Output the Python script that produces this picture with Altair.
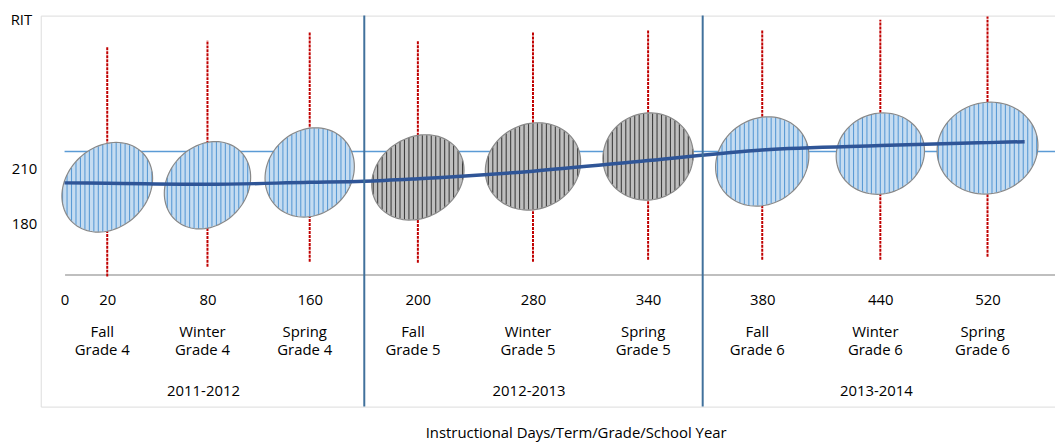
import math
import altair as alt
import pandas as pd

# ---------------- data ----------------
days = [20, 80, 160, 200, 280, 340, 380, 440, 520]
terms = ["Fall", "Winter", "Spring", "Fall", "Winter", "Spring", "Fall", "Winter", "Spring"]
grades = ["Grade 4", "Grade 4", "Grade 4", "Grade 5", "Grade 5", "Grade 5", "Grade 6", "Grade 6", "Grade 6"]
rit_center = [199.7, 200.8, 207.8, 205.1, 211.1, 216.5, 213.8, 218.1, 221.1]
rit_high = [276.2, 280.0, 284.3, 280.0, 284.3, 285.4, 285.4, 291.3, 293.0]
rit_low = [150.9, 156.3, 159.0, 158.5, 159.0, 160.1, 160.1, 160.1, 161.7]

trend_days = [0, 20, 80, 160, 180, 200, 280, 340, 380, 440, 520, 531]
trend_rit = [202.1, 201.9, 201.3, 202.4, 203.0, 204.4, 208.5, 214.3, 220.1, 222.5, 224.1, 224.6]

reference_rit = 219.2
tick_days = [0, 20, 80, 160, 200, 280, 340, 380, 440, 520]
rit_ticks = [180, 210]
years = ["2011-2012", "2012-2013", "2013-2014"]
year_label_days = [80, 280, 440]
year_bounds = [180, 360]

# ---------------- style ----------------
FONT = "Open Sans"
FS = 15
# ellipse geometry in pixels: half width, half height, x offset of top point
ellipse_geom = [(45.7, 45.2, 9), (43.5, 44.0, 8), (45.0, 45.0, 6),
                (46.5, 43.0, 8), (48.0, 44.0, 5), (45.5, 44.0, 2),
                (47.0, 45.0, 6), (44.5, 41.0, 3), (50.8, 46.3, 3)]
grade_fill = {"Grade 4": "#c5dcf1", "Grade 5": "#bfbfbf", "Grade 6": "#c5dcf1"}
grade_hatch = {"Grade 4": "#5b9bd5", "Grade 5": "#3f3f3f", "Grade 6": "#5b9bd5"}


def ellipse_paths(W, H, dx, spacing=4.5, n=96):
    sxy = -dx * H
    l00 = W
    l10 = sxy / W
    l11 = math.sqrt(H * H - l10 * l10)
    pts = []
    for i in range(n):
        t = 2 * math.pi * i / n
        pts.append((l00 * math.cos(t), l10 * math.cos(t) + l11 * math.sin(t)))
    outline = "M " + " L ".join(f"{x:.2f} {y:.2f}" for x, y in pts) + " Z"
    segs = []
    k = math.ceil(-W / spacing)
    x = k * spacing
    while x < W:
        c = x / W
        s = math.sqrt(max(0.0, 1 - c * c))
        y1 = l10 * c - l11 * s
        y2 = l10 * c + l11 * s
        if y2 - y1 > 1.5:
            segs.append(f"M {x:.2f} {y1 + 0.5:.2f} L {x:.2f} {y2 - 0.5:.2f}")
        x += spacing
    return outline, " ".join(segs)


outl, hatch = zip(*[ellipse_paths(*g) for g in ellipse_geom])
df = pd.DataFrame({
    "day": days, "term": terms, "grade": grades, "rit": rit_center,
    "hi": rit_high, "lo": rit_low,
    "outline": outl, "hatch": hatch,
    "fillc": [grade_fill[g] for g in grades],
    "hatchc": [grade_hatch[g] for g in grades],
})
trend = pd.DataFrame({"day": trend_days, "rit": trend_rit})
ref = pd.DataFrame({"x0": [0], "x1": [540], "y": [reference_rit]})
bounds = pd.DataFrame({"day": year_bounds})
yr = pd.DataFrame({"day": year_label_days, "year": years})

W, H = 1022, 394
xscale = alt.Scale(domain=[0, 20, 80, 160, 180, 200, 280, 340, 360, 380, 440, 520, 540],
                   range=[24, 67, 168, 271, 326, 380, 496, 612, 667, 727, 846, 954, 1022],
                   nice=False, zero=False)
yscale = alt.Scale(domain=[79.85, 293.5], nice=False, zero=False)

xaxis = alt.Axis(values=tick_days, orient="bottom", offset=-133, domainColor="#bfbfbf",
                 domainWidth=2, ticks=False, tickSize=0, labelPadding=18, labelFontSize=FS,
                 labelColor="black", labelFont=FONT, grid=False, labelFlush=False,
                 labelOverlap=False, format="d",
                 title="Instructional Days/Term/Grade/School Year", titleX=539, titleY=159,
                 titleBaseline="middle", titleFontSize=FS, titleFontWeight="normal",
                 titleColor="black", titleFont=FONT)
yaxis = alt.Axis(values=rit_ticks, title="RIT", titleAngle=0, titleX=-20, titleY=4,
                 titleAlign="center", titleBaseline="middle", titleFontSize=FS,
                 titleFontWeight="normal", titleColor="black", titleFont=FONT,
                 domain=False, ticks=False, tickSize=0, grid=False, labelPadding=4,
                 labelFontSize=FS, labelColor="black", labelFont=FONT)

base = alt.Chart(df)

ref_line = alt.Chart(ref).mark_rule(color="#5b9bd5", strokeWidth=1.5).encode(
    x=alt.X("x0:Q", scale=xscale, axis=xaxis), x2="x1:Q",
    y=alt.Y("y:Q", scale=yscale, axis=yaxis))

ranges = base.mark_rule(color="#c00000", strokeWidth=2, strokeDash=[3, 1]).encode(
    x=alt.X("day:Q", scale=xscale), y=alt.Y("lo:Q", scale=yscale), y2="hi:Q")

fills = base.mark_point(size=4, opacity=1, filled=True, strokeWidth=0).encode(
    x=alt.X("day:Q", scale=xscale), y=alt.Y("rit:Q", scale=yscale),
    shape=alt.Shape("outline:N", scale=None, legend=None),
    fill=alt.Fill("fillc:N", scale=None))

hatches = base.mark_point(size=4, opacity=1, filled=False, strokeWidth=1.1).encode(
    x=alt.X("day:Q", scale=xscale), y=alt.Y("rit:Q", scale=yscale),
    shape=alt.Shape("hatch:N", scale=None, legend=None),
    stroke=alt.Stroke("hatchc:N", scale=None))

outlines = base.mark_point(size=4, opacity=1, filled=False, strokeWidth=1.2,
                           color="#888888").encode(
    x=alt.X("day:Q", scale=xscale), y=alt.Y("rit:Q", scale=yscale),
    shape=alt.Shape("outline:N", scale=None, legend=None))

trend_line = alt.Chart(trend).mark_line(color="#2f5597", strokeWidth=3.5,
                                         interpolate="monotone").encode(
    x=alt.X("day:Q", scale=xscale), y=alt.Y("rit:Q", scale=yscale))

dividers = alt.Chart(bounds).mark_rule(color="#41719c", strokeWidth=2).encode(
    x=alt.X("day:Q", scale=xscale))

term_text = base.mark_text(fontSize=FS, font=FONT, color="black", dx=-5).encode(
    x=alt.X("day:Q", scale=xscale), y=alt.value(319), text="term:N")
grade_text = base.mark_text(fontSize=FS, font=FONT, color="black", dx=-5).encode(
    x=alt.X("day:Q", scale=xscale), y=alt.value(337), text="grade:N")
year_text = alt.Chart(yr).mark_text(fontSize=FS, font=FONT, color="black", dx=-4).encode(
    x=alt.X("day:Q", scale=xscale), y=alt.value(378), text="year:N")

chart = alt.layer(ref_line, ranges, fills, hatches, outlines, trend_line, dividers,
                  term_text, grade_text, year_text).properties(
    width=W, height=H,
    autosize=alt.AutoSizeParams(type="none"),
    padding={"left": 33, "top": 6, "right": 0, "bottom": 34},
).configure_view(stroke="#5f86b8", strokeWidth=1.5).configure(font=FONT)

chart.save("out.html", embed_options={"renderer": "svg", "actions": False})
